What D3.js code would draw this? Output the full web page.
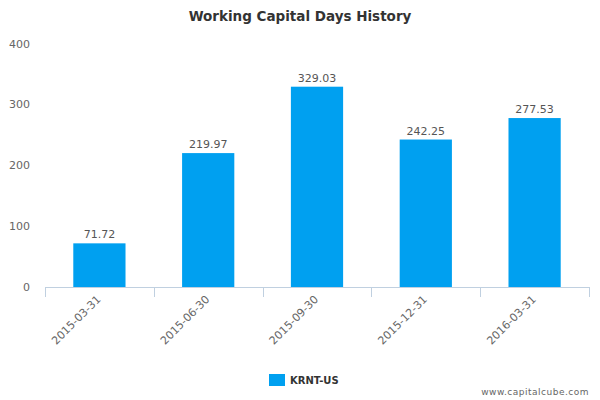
<!DOCTYPE html>
<html><head><meta charset="utf-8">
<script src="https://cdn.jsdelivr.net/npm/d3@7"></script>
<style>body{margin:0;background:#fff}svg{font-family:"DejaVu Sans",sans-serif}</style>
</head><body><svg id="c" width="600" height="400"></svg>
<script>
const categories = ["2015-03-31","2015-06-30","2015-09-30","2015-12-31","2016-03-31"];
const values = [71.72, 219.97, 329.03, 242.25, 277.53];
const yTicks = [0,100,200,300,400];
const seriesName = "KRNT-US";

const svg = d3.select("#c");
const m = {l:45, r:589, t:43.5, b:287};
const x = d3.scaleBand().domain(categories).range([m.l, m.r]).paddingInner(0.52).paddingOuter(0.26);
const y = d3.scaleLinear().domain([0,400]).range([m.b, m.t]);
const color = "#00a0f0";

svg.append("text").attr("x",300).attr("y",21).attr("text-anchor","middle")
  .attr("font-size",13.5).attr("font-weight","bold").attr("fill","#333").text("Working Capital Days History");

svg.selectAll(".yl").data(yTicks).enter().append("text")
  .attr("x",30).attr("y",d=>y(d)+4).attr("text-anchor","end")
  .attr("font-size",11).attr("fill","#666").text(d=>d);

svg.selectAll(".bar").data(values).enter().append("rect")
  .attr("x",(d,i)=>x(categories[i])).attr("width",x.bandwidth())
  .attr("y",d=>y(d)).attr("height",d=>y(0)-y(d)).attr("fill",color);

svg.selectAll(".vl").data(values).enter().append("text")
  .attr("x",(d,i)=>x(categories[i])+x.bandwidth()/2).attr("y",d=>y(d)-5)
  .attr("text-anchor","middle").attr("font-size",11).attr("fill","#555")
  .text(d=>d.toFixed(2));

// x axis line and ticks
const step = (m.r-m.l)/categories.length;
svg.append("line").attr("x1",m.l).attr("x2",m.r).attr("y1",m.b+0.5).attr("y2",m.b+0.5)
  .attr("stroke","#c0d0e0").attr("stroke-width",1);
const tickPos = d3.range(categories.length+1).map(i=>m.l+i*step);
svg.selectAll(".tk").data(tickPos).enter().append("line")
  .attr("x1",d=>Math.round(d)+0.5).attr("x2",d=>Math.round(d)+0.5)
  .attr("y1",m.b).attr("y2",m.b+10).attr("stroke","#c0d0e0");

svg.selectAll(".xl").data(categories).enter().append("text")
  .attr("transform",d=>`translate(${x(d)+x.bandwidth()/2+2},${m.b+13}) rotate(-45)`)
  .attr("text-anchor","end").attr("font-size",11).attr("fill","#666").text(d=>d);

// legend
svg.append("rect").attr("x",269).attr("y",374).attr("width",16).attr("height",12).attr("fill",color);
svg.append("text").attr("x",290).attr("y",384).attr("font-size",10).attr("font-weight","bold")
  .attr("fill","#333").text(seriesName);

svg.append("text").attr("x",589).attr("y",395).attr("text-anchor","end")
  .attr("font-size",9).attr("fill","#666").attr("letter-spacing","0.5").text("www.capitalcube.com");
</script></body></html>
